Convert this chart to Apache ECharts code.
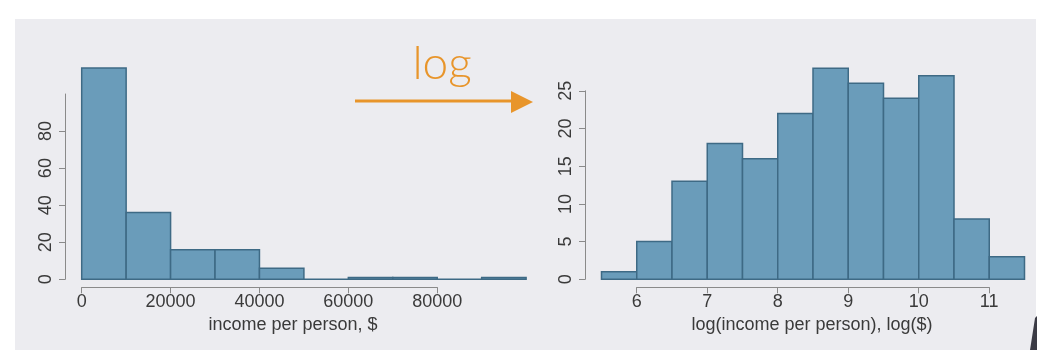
<!DOCTYPE html>
<html>
<head>
<meta charset="utf-8">
<script src="https://cdn.jsdelivr.net/npm/echarts@6/dist/echarts.min.js"></script>
<style>
  html, body { margin: 0; padding: 0; background: #fff; }
  #wrap { position: relative; width: 1041px; height: 354px; }
  #panel { position: absolute; left: 15px; top: 19px; width: 1021px; height: 331px; background: #ececf0; }
  #chart { position: absolute; left: 0; top: 0; width: 1041px; height: 354px; }
</style>
</head>
<body>
<div id="wrap">
  <div id="panel"></div>
  <div id="chart"></div>
</div>
<script>
// income histogram (bin width 10000)
const incomeEdges = [0, 10000, 20000, 30000, 40000, 50000, 60000, 70000, 80000, 90000, 100000];
const incomeCounts = [114, 36, 16, 16, 6, 0, 1, 1, 0, 1];
const incomeTicks = [0, 20000, 40000, 60000, 80000];

// log(income) histogram (bin width 0.5)
const logEdges = [5.5, 6, 6.5, 7, 7.5, 8, 8.5, 9, 9.5, 10, 10.5, 11, 11.5];
const logCounts = [1, 5, 13, 18, 16, 22, 28, 26, 24, 27, 8, 3];
const logTicks = [6, 7, 8, 9, 10, 11];

const barFill = '#6a9cba';
const barStroke = '#3e6a85';
const axisColor = '#8a8a8a';
const textColor = '#3a3a3a';
const font = "'Liberation Sans', Arial, sans-serif";

const chart = echarts.init(document.getElementById('chart'));

// 把边界和计数拼成 [start, end, count]
const toRows = (edges, counts) => counts.map((c, i) => [edges[i], edges[i + 1], c]);

const renderBin = function (params, api) {
    const topLeft = api.coord([api.value(0), api.value(2)]);
    const bottomRight = api.coord([api.value(1), 0]);
    return {
        type: 'rect',
        shape: {
            x: topLeft[0],
            y: topLeft[1],
            width: bottomRight[0] - topLeft[0],
            height: bottomRight[1] - topLeft[1]
        },
        style: { fill: barFill, stroke: barStroke, lineWidth: 1.5 }
    };
};

const hiddenAxis = (gridIndex, min, max) => ({
    gridIndex, type: 'value', min, max, show: false, splitLine: { show: false }
});

const shownX = (gridIndex, ticks) => ({
    gridIndex, type: 'value',
    min: ticks[0], max: ticks[ticks.length - 1],
    interval: ticks[1] - ticks[0],
    offset: 8,
    axisLine: { show: true, onZero: false, lineStyle: { color: axisColor, width: 1 } },
    axisTick: { show: true, length: 6, lineStyle: { color: axisColor } },
    axisLabel: {
        color: textColor, fontSize: 18, fontFamily: font, margin: 6,
        formatter: (v) => String(v)
    },
    splitLine: { show: false }
});

const shownY = (gridIndex, max, interval, offset, showMax) => ({
    gridIndex, type: 'value', min: 0, max, interval, offset,
    axisLine: { show: true, onZero: false, lineStyle: { color: axisColor, width: 1 } },
    axisTick: { show: true, length: 6, lineStyle: { color: axisColor } },
    axisLabel: {
        color: textColor, fontSize: 18, fontFamily: font, rotate: 90, margin: 10,
        showMaxLabel: showMax, formatter: (v) => String(v)
    },
    splitLine: { show: false }
});

const orange = '#e8952b';

const option = {
    animation: false,
    backgroundColor: 'transparent',
    grid: [
        { left: 81.7, top: 56.9, width: 444.4, height: 222.4, outerBoundsMode: 'none' },
        { left: 81.7, top: 94, width: 355.5, height: 185.3, outerBoundsMode: 'none' },
        { left: 601.5, top: 53.1, width: 423, height: 226.2, outerBoundsMode: 'none' },
        { left: 636.7, top: 90.8, width: 352.5, height: 188.5, outerBoundsMode: 'none' }
    ],
    xAxis: [
        hiddenAxis(0, 0, 100000),
        shownX(1, incomeTicks),
        hiddenAxis(2, 5.5, 11.5),
        shownX(3, logTicks)
    ],
    yAxis: [
        hiddenAxis(0, 0, 120),
        shownY(1, 100, 20, 16.7, false),
        hiddenAxis(2, 0, 30),
        shownY(3, 25, 5, 51.7, true)
    ],
    series: [
        {
            type: 'custom', xAxisIndex: 0, yAxisIndex: 0,
            data: toRows(incomeEdges, incomeCounts),
            encode: { x: [0, 1], y: 2 },
            renderItem: renderBin, z: 2
        },
        {
            type: 'custom', xAxisIndex: 2, yAxisIndex: 2,
            data: toRows(logEdges, logCounts),
            encode: { x: [0, 1], y: 2 },
            renderItem: renderBin, z: 2
        }
    ],
    graphic: [
        {
            type: 'polygon', silent: true,
            shape: { points: [[1030, 350], [1035, 318], [1037, 316], [1037, 350]] },
            style: { fill: '#3b3b45' }
        },
        {
            type: 'text',
            style: {
                x: 293, y: 325, text: 'income per person, $',
                fill: textColor, font: "18px 'Liberation Sans', Arial, sans-serif",
                textAlign: 'center', textVerticalAlign: 'middle'
            }
        },
        {
            type: 'text',
            style: {
                x: 812, y: 325, text: 'log(income per person), log($)',
                fill: textColor, font: "18px 'Liberation Sans', Arial, sans-serif",
                textAlign: 'center', textVerticalAlign: 'middle'
            }
        },
        {   // 手写的 log 和箭头
            type: 'text',
            style: {
                x: 442, y: 64, text: 'log',
                fill: orange, font: "300 46px Lato, 'Open Sans', sans-serif",
                textAlign: 'center', textVerticalAlign: 'middle'
            }
        },
        {
            type: 'line',
            shape: { x1: 355, y1: 101, x2: 516, y2: 101 },
            style: { stroke: orange, lineWidth: 3 }
        },
        {
            type: 'polygon',
            shape: { points: [[511, 91], [533, 102], [511, 113]] },
            style: { fill: orange }
        }
    ]
};

chart.setOption(option);
</script>
</body>
</html>
